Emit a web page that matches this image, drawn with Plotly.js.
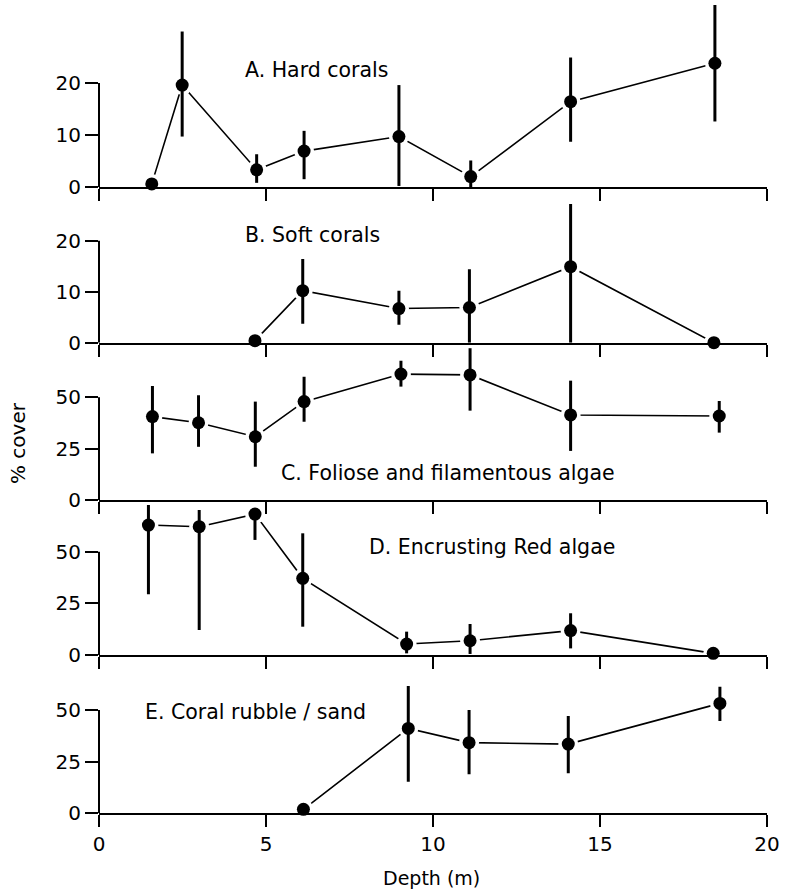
<!DOCTYPE html>
<html>
<head>
<meta charset="utf-8">
<script src="https://cdn.plot.ly/plotly-3.0.1.min.js"></script>
<style>html,body{margin:0;padding:0;background:#fff;}#chart{width:794px;height:891px;}</style>
</head>
<body>
<div id="chart"></div>
<script>
// ---- Data (depth in m, % cover, error-bar lower/upper ends) ----
const panelLabels = ["A. Hard corals", "B. Soft corals", "C. Foliose and filamentous algae", "D. Encrusting Red algae", "E. Coral rubble / sand"];
const yTickVals = [[0, 10, 20], [0, 10, 20], [0, 25, 50], [0, 25, 50], [0, 25, 50]];
const xTickVals = [0, 5, 10, 15, 20];

const depthA = [1.58, 2.49, 4.72, 6.14, 8.98, 11.13, 14.12, 18.44];
const coverA = [0.6, 19.6, 3.3, 6.9, 9.7, 2.0, 16.4, 23.8];
const loA    = [0.6, 9.7, 0.8, 1.5, 0.2, 0.0, 8.7, 12.6];
const hiA    = [0.6, 29.9, 6.3, 10.8, 19.6, 5.1, 24.9, 35.0];

const depthB = [4.67, 6.10, 8.98, 11.09, 14.12, 18.41];
const coverB = [0.4, 10.2, 6.7, 6.9, 14.9, 0.0];
const loB    = [0.4, 3.7, 3.5, 0.0, 0.0, 0.0];
const hiB    = [0.4, 16.4, 10.2, 14.4, 27.2, 0.0];

const depthC = [1.60, 2.98, 4.68, 6.14, 9.04, 11.11, 14.12, 18.57];
const coverC = [40.6, 37.6, 30.8, 47.9, 61.3, 60.9, 41.4, 40.9];
const loC    = [22.7, 25.9, 16.2, 38.1, 55.2, 43.5, 23.9, 32.8];
const hiC    = [55.5, 51.0, 47.9, 60.0, 67.8, 73.9, 58.1, 48.2];

const depthD = [1.48, 3.00, 4.67, 6.10, 9.21, 11.11, 14.12, 18.39];
const coverD = [62.9, 62.1, 68.2, 37.1, 5.3, 6.9, 11.8, 0.8];
const loD    = [29.4, 12.1, 55.7, 13.7, 0.8, 0.5, 3.2, 0.8];
const hiD    = [72.6, 70.2, 70.0, 58.9, 11.3, 15.0, 20.2, 0.8];

const depthE = [6.12, 9.26, 11.08, 14.05, 18.59];
const coverE = [1.9, 41.1, 34.2, 33.5, 53.2];
const loE    = [1.9, 15.3, 18.9, 19.4, 44.7];
const hiE    = [1.9, 61.6, 50.0, 47.1, 61.3];

const series = [
  [depthA, coverA, loA, hiA],
  [depthB, coverB, loB, hiB],
  [depthC, coverC, loC, hiC],
  [depthD, coverD, loD, hiD],
  [depthE, coverE, loE, hiE]
];

// ---- Layout geometry (pixels) ----
const H = 891, W = 794, ML = 99, MR = 27;
const zeroPx = [187, 342.7, 500, 655, 813.3];   // pixel of y = 0
const pxPerUnit = [5.2, 5.1, 2.054, 2.066, 2.066];
const topPx = [0, 190, 335, 490, 668];           // top of each subplot domain
const labelPos = [[243, 70], [243, 235], [279, 473], [367, 547], [143, 712]];

const FONT = "DejaVu Sans, Liberation Sans, Arial, sans-serif";
const px2x = p => (p - ML) / (W - ML - MR);
const px2y = p => 1 - p / H;
const traces = [];
const layout = {
  width: W, height: H,
  margin: {l: ML, r: MR, t: 0, b: 0},
  paper_bgcolor: "#fff",
  plot_bgcolor: "rgba(0,0,0,0)",
  showlegend: false,
  font: {family: FONT, size: 20, color: "#000"},
  shapes: [],
  annotations: []
};

series.forEach((s, i) => {
  const [xs, ys, lo, hi] = s;
  const n = i + 1;
  const xa = n === 1 ? "x" : "x" + n;
  const ya = n === 1 ? "y" : "y" + n;
  const plus = ys.map((v, k) => hi[k] - v);
  const minus = ys.map((v, k) => v - lo[k]);
  // connecting line
  traces.push({x: xs, y: ys, xaxis: xa, yaxis: ya, type: "scatter", mode: "lines",
    line: {color: "#000", width: 1.6}, cliponaxis: false, hoverinfo: "skip"});
  // white halo to create gaps between line and markers
  traces.push({x: xs, y: ys, xaxis: xa, yaxis: ya, type: "scatter", mode: "markers",
    marker: {color: "#fff", size: 20}, cliponaxis: false, hoverinfo: "skip"});
  // points with error bars
  traces.push({x: xs, y: ys, xaxis: xa, yaxis: ya, type: "scatter", mode: "markers",
    marker: {color: "#000", size: 13},
    error_y: {type: "data", symmetric: false, array: plus, arrayminus: minus,
      color: "#000", thickness: 3, width: 0},
    cliponaxis: false});

  const ymax = (zeroPx[i] - topPx[i]) / pxPerUnit[i];
  const dom = [px2y(zeroPx[i]), px2y(topPx[i])];
  const isLast = i === series.length - 1;
  layout["xaxis" + (n === 1 ? "" : n)] = {
    domain: [0, 1], range: [0, 20], anchor: ya,
    showgrid: false, zeroline: false, showline: true, linecolor: "#000", linewidth: 2,
    ticks: "outside", ticklen: 12, tickwidth: 2, tickcolor: "#000",
    tickvals: xTickVals, showticklabels: isLast,
    tickfont: {family: FONT, size: 20, color: "#000"}
  };
  layout["yaxis" + (n === 1 ? "" : n)] = {
    domain: dom, range: [0, ymax], anchor: xa,
    showgrid: false, zeroline: false, showline: false,
    ticks: "outside", ticklen: 13, tickwidth: 2, tickcolor: "#000",
    tickvals: yTickVals[i], ticktext: yTickVals[i].map(String),
    tickfont: {family: FONT, size: 20, color: "#000"}
  };
  // y-axis line only up to the top tick
  layout.shapes.push({type: "line", xref: xa + " domain", yref: ya,
    x0: 0, x1: 0, y0: 0, y1: yTickVals[i][yTickVals[i].length - 1],
    line: {color: "#000", width: 2}, layer: "above"});
  layout.annotations.push({text: panelLabels[i], xref: "paper", yref: "paper",
    x: px2x(labelPos[i][0]), y: px2y(labelPos[i][1]),
    xanchor: "left", yanchor: "middle", showarrow: false,
    font: {family: FONT, size: 20.5, color: "#000"}});
});

layout.annotations.push({text: "% cover", xref: "paper", yref: "paper",
  x: px2x(18), y: px2y(443), xanchor: "center", yanchor: "middle",
  textangle: -90, showarrow: false, font: {family: FONT, size: 20, color: "#000"}});
layout.annotations.push({text: "Depth (m)", xref: "paper", yref: "paper",
  x: px2x(431), y: px2y(878), xanchor: "center", yanchor: "middle",
  showarrow: false, font: {family: FONT, size: 19, color: "#000"}});

Plotly.newPlot("chart", traces, layout, {staticPlot: true, displayModeBar: false});
</script>
</body>
</html>
